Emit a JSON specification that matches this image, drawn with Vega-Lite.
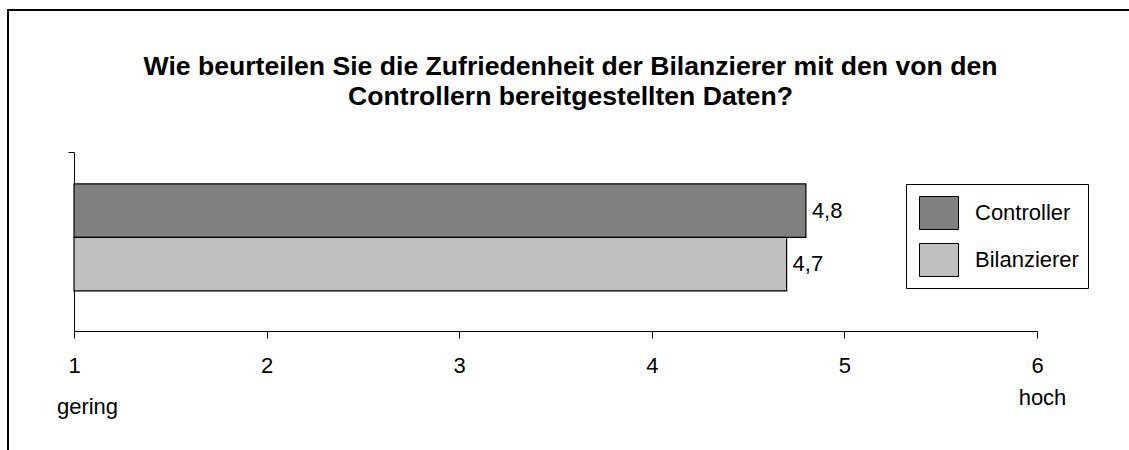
{
  "$schema": "https://vega.github.io/schema/vega-lite/v6.json",
  "width": 1125,
  "height": 445,
  "autosize": {"type": "none"},
  "padding": {"left": 8, "top": 10, "right": -4, "bottom": -5},
  "background": "white",
  "title": {
    "text": ["Wie beurteilen Sie die Zufriedenheit der Bilanzierer mit den von den", "Controllern bereitgestellten Daten?"],
    "anchor": "middle",
    "frame": "group",
    "offset": -101,
    "baseline": "top",
    "fontSize": 26.6,
    "fontWeight": "bold",
    "font": "Liberation Sans",
    "color": "black",
    "lineHeight": 30,
    "dx": 0
  },
  "data": {
    "values": [
      {"series": "Controller", "value": 4.8},
      {"series": "Bilanzierer", "value": 4.7}
    ]
  },
  "encoding": {
    "y": {
      "field": "series",
      "type": "nominal",
      "sort": ["Controller", "Bilanzierer"],
      "scale": {"range": [142, 321], "paddingInner": 0, "paddingOuter": 0.6729, "align": 0.444},
      "axis": {
        "orient": "left",
        "offset": -66,
        "labels": false,
        "title": null,
        "values": ["Controller"],
        "tickOffset": -58.75,
        "tickSize": 6,
        "domainColor": "black",
        "tickColor": "black",
        "grid": false
      }
    }
  },
  "layer": [
    {
      "mark": {"type": "bar", "stroke": "black", "strokeWidth": 1.2, "opacity": 1},
      "encoding": {
        "x": {
          "field": "value",
          "type": "quantitative",
          "scale": {"domain": [1, 6], "range": [66, 1029], "nice": false, "zero": false},
          "axis": {
            "orient": "bottom",
            "offset": -124,
            "values": [1, 2, 3, 4, 5, 6],
            "format": "d",
            "title": null,
            "grid": false,
            "tickSize": 7,
            "labelPadding": 34,
            "labelBaseline": "alphabetic",
            "labelFontSize": 22,
            "labelFont": "Liberation Sans",
            "labelColor": "black",
            "domainColor": "black",
            "tickColor": "black",
            "labelFlush": false,
            "labelOverlap": false
          }
        },
        "x2": {"datum": 1},
        "color": {
          "field": "series",
          "type": "nominal",
          "scale": {"domain": ["Controller", "Bilanzierer"], "range": ["#808080", "#c0c0c0"]},
          "legend": {
            "orient": "none",
            "legendX": 898,
            "legendY": 174,
            "title": null,
            "strokeColor": "black",
            "padding": 9,
            "symbolType": "M-1,-0.846H1V0.846H-1Z",
            "symbolSize": 1521,
            "symbolStrokeColor": "black",
            "symbolStrokeWidth": 1,
            "symbolOpacity": 1,
            "symbolOffset": 4,
            "labelFontSize": 22,
            "labelFont": "Liberation Sans",
            "labelColor": "black",
            "labelOffset": 16,
            "rowPadding": 8
          }
        }
      }
    },
    {
      "mark": {"type": "text", "align": "left", "baseline": "middle", "dx": 6, "fontSize": 22, "font": "Liberation Sans", "color": "black"},
      "encoding": {
        "x": {
          "field": "value",
          "type": "quantitative",
          "axis": {
            "orient": "bottom",
            "offset": -124,
            "values": [1, 6],
            "labelExpr": "datum.value == 1 ? 'gering' : 'hoch'",
            "domain": false,
            "ticks": false,
            "tickSize": 0,
            "grid": false,
            "title": null,
            "labelBaseline": "alphabetic",
            "labelPadding": {"condition": {"test": "datum.value == 1", "value": 82}, "value": 73},
            "labelOffset": {"condition": {"test": "datum.value == 1", "value": 13}, "value": 5},
            "labelFontSize": 22,
            "labelFont": "Liberation Sans",
            "labelColor": "black",
            "labelFlush": false,
            "labelOverlap": false
          }
        },
        "text": {"field": "value", "type": "quantitative", "format": ".1f"}
      }
    }
  ],
  "resolve": {"axis": {"x": "independent"}},
  "config": {
    "view": {"stroke": "black", "strokeWidth": 2},
    "font": "Liberation Sans",
    "locale": {
      "number": {"decimal": ",", "thousands": ".", "grouping": [3], "currency": ["", " €"]}
    },
    "axis": {"domainWidth": 1, "tickWidth": 1}
  }
}
